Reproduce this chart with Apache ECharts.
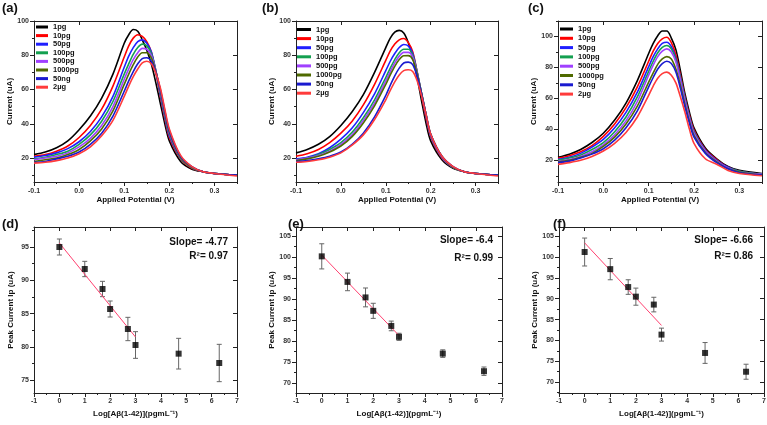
<!DOCTYPE html>
<html><head><meta charset="utf-8">
<script src="https://cdn.jsdelivr.net/npm/echarts@6/dist/echarts.min.js"></script>
<style>html,body{margin:0;padding:0;background:#fff}#c{width:767px;height:425px}</style>
</head><body><div id="c"></div>
<script>
// ---------- data ----------
const seriesNames = ['1pg','10pg','50pg','100pg','500pg','1000pg','50ng','2µg'];
const seriesColors = ['#000000','#ff0000','#1f1fff','#14a050','#a040ff','#4f6a00','#1a1ad0','#ff3b3b'];
const potential = [-0.1,-0.075,-0.05,-0.025,0,0.025,0.05,0.075,0.1,0.11,0.12,0.13,0.14,0.15,0.16,0.17,0.18,0.19,0.2,0.225,0.25,0.275,0.3,0.35];

// panel (a) currents, one row per concentration
const currentA = [
  [22,23.5,26,30,36.5,44.5,55,69,87,92,95,94,89,83,75,64,52,40,30,18,13.5,12,11,10],
  [21,22,24,27,32,39,48.5,62,79,85.5,90,92,91,88,82,70,56,43,32,19.5,14,12,11,10],
  [20.5,21.5,23,25.5,29.5,35.5,44,56,73,79.5,84.5,88,89,87,82,71,57,44,33,20,14.5,12,11,10],
  [19.5,20.5,22,24,28,33.5,41.5,53,69,75,80.5,84.5,86.5,85.5,81,71,58,45,34,20,14.5,12,11,10],
  [19,20,21,23,26.5,31.5,39,50,66,72,77.5,81.5,84,83.5,80,71,59,46,34.5,20.5,14.5,12,11,10],
  [18,19,20,22,25,30,37,47.5,63,69,74.5,79,81.5,81.5,78.5,70.5,59.5,46.5,35,20.5,14.5,12,11,10],
  [17.5,18,19.5,21,23.5,28,34.5,44.5,59,65,70.5,75,78,78.5,76.5,70,60,47.5,36,21,15,12,11,10],
  [17,17.5,18.5,20,22.5,26.5,33,42,56,62,67.5,72,75.5,76.5,75,69.5,61,48.5,37,21.5,15,12,11,9.5]
];
// panel (b)
const currentB = [
  [23,25,28,32.5,39,47,57,70,84.5,90,93.5,94.5,93,87.5,79,67,53,40,30,19,14,12,11,10],
  [21,22.5,25,29,34.5,41.5,51,63,77,82.5,86.5,89,89.8,87.5,82,70,56,43,32.5,20,14.5,12,11,10],
  [19.5,20.5,22.5,26,31,37.5,46.5,57.5,71,76.5,81,84.5,86.3,85.5,81,70,57,44,33,20.5,14.5,12,11,10],
  [19,20,22,25,29,35,43.5,54,67,72.5,77.5,81.5,83.5,83.5,80,70,57.5,45,33.5,20.5,14.5,12,11,10],
  [19,20,21.5,24,28,33.5,42,52,65,70.5,75.5,79.5,81.7,81.7,79,69.5,57.5,45,33.5,20.5,14.5,12,11,10],
  [18.5,19.5,21,23.5,27,32.5,40.5,50.5,63,68.5,73.5,77.5,79.7,79.8,77.5,69,57.5,45,34,21,14.5,12,11,10],
  [18,18.5,19.5,21,23.5,28,34.5,44,56.5,62.5,68,72.5,75.5,76,74.5,67.5,57,45,34,21,15,12,11,10],
  [17.5,18,19,20.5,23,27.5,33.5,42.5,54,59.5,64.5,68.5,71,71.5,70.5,65,56,45,34,21,15,12,11,9.5]
];
// panel (c)
const currentC = [
  [22,24,27,31.5,37.5,46,57,71.5,89,95.5,100.5,103.5,103.5,99,91.5,78,63,51,41,28,21,16,13.5,11.5],
  [21.3,23,25.5,29.5,35.5,43.5,54,67.5,84,90.5,95.5,98.5,99.5,96,88,75,61,49,39.5,27,20.5,15.5,13,11],
  [20.6,22,24.5,28.5,33.5,41,51,64,80.5,87,92,95.5,96.3,93.5,86,73.5,60,48,38.5,26.5,20,15.5,13,11],
  [20.2,21.5,23.5,27,31.5,38.5,48,61,77.5,84,89.5,93,94.2,92,85,73,59.5,47.5,38,26,19.5,15,13,11],
  [19.4,20.5,22.5,25.5,30,36.5,45.5,58,75,81.5,87,90.5,92,90,83.5,72,58.5,47,37.5,26,19.5,15,12.5,11],
  [19,20,22,24.5,29,35,43.5,55,70.5,76.5,82,85.5,87,85.5,79,68.5,56,45,36,25,19,14.5,12.5,10.5],
  [18.5,19.5,21.5,24,27.5,33,41,52,67.5,73.5,79,82.5,84,82.5,77,66.5,54.5,44,35,24.5,18.5,14.5,12,10.5],
  [17.4,18.5,20,22.5,26,31,38,48,62,68,73,76,77,75,70,61,51,40,31,21,17.5,13.5,11.5,10]
];

// calibration panels
const logConc = [0,1,1.7,2,2.7,3,4.7,6.3];
const peakD = [95.0,91.7,88.7,85.7,82.7,80.3,79.0,77.6];
const errD  = [1.2,1.15,1.15,1.2,1.75,2.0,2.3,2.8];
const peakE = [100.2,94.1,90.4,87.2,83.6,81.0,77.0,72.8];
const errE  = [3.0,2.1,2.25,1.8,1.15,0.85,0.9,1.0];
const peakF = [101.2,97.1,92.8,90.5,88.6,81.4,77.0,72.5];
const errF  = [3.35,2.55,1.75,2.05,1.75,1.55,2.5,1.8];
const fitX = [0,3];
const fitD = [95.6,81.5];
const fitE = [100.5,81.3];
const fitF = [103.4,83.6];

// tick labels
const potMajor = [-0.1,0,0.1,0.2,0.3];
const potMinor = [-0.05,0.05,0.15,0.25,0.35];
const curMajor = [20,40,60,80,100];
const curMinor = [10,30,50,70,90];
const curMinorC = [10,30,50,70,90,110];
const logMajor = [-1,0,1,2,3,4,5,6,7];
const logMinor = [-0.5,0.5,1.5,2.5,3.5,4.5,5.5,6.5];
const ipMajorD = [75,80,85,90,95];
const ipMinorD = [77.5,82.5,87.5,92.5,97.5];
const ipMajorEF = [70,75,80,85,90,95,100,105];
const ipMinorEF = [67.5,72.5,77.5,82.5,87.5,92.5,97.5,102.5];

// ---------- build ----------
const FF = 'Liberation Sans, Arial, sans-serif';
const AX = '#222';
const grids = [], xAxes = [], yAxes = [], series = [], legends = [];

function addAxes(list, g, isX, min, max, majors, minors, fmt, name, nameGap, margin) {
  const base = list.length;
  list.push({
    type: 'value', gridIndex: g, position: isX ? 'bottom' : 'left', min, max,
    name, nameLocation: 'middle', nameGap,
    nameTextStyle: {fontFamily: FF, fontWeight: 'bold', fontSize: 8, color: '#111'},
    axisLine: {show: true, onZero: false, lineStyle: {color: AX, width: 1}},
    axisTick: {show: true, inside: false, length: 4, customValues: majors, lineStyle: {color: AX}},
    axisLabel: {show: true, customValues: majors, formatter: fmt, margin, fontSize: 7, fontWeight: 'bold', color: '#333', fontFamily: FF},
    splitLine: {show: false}
  });
  list.push({
    type: 'value', gridIndex: g, position: isX ? 'bottom' : 'left', min, max,
    axisLine: {show: false, onZero: false},
    axisTick: {show: true, inside: false, length: 2, customValues: minors, lineStyle: {color: AX}},
    axisLabel: {show: false}, splitLine: {show: false}
  });
  list.push({
    type: 'value', gridIndex: g, position: isX ? 'top' : 'right', min, max,
    axisLine: {show: true, onZero: false, lineStyle: {color: AX, width: 1}},
    axisTick: {show: true, inside: true, length: 4, customValues: majors, lineStyle: {color: AX}},
    axisLabel: {show: false}, splitLine: {show: false}
  });
  return base;
}

const fmtPot = v => v.toFixed(1);
const fmtInt = v => String(Math.round(v));

function curvePanel(g, box, ymax, yMinor, data, lp) {
  grids.push({left: box[0], top: box[1], width: box[2], height: box[3], containLabel: false, outerBoundsMode: 'none'});
  const xi = addAxes(xAxes, g, true, -0.1, 0.35, potMajor, potMinor, fmtPot, 'Applied Potential (V)', 12, 6);
  const yi = addAxes(yAxes, g, false, 6, ymax, curMajor, yMinor, fmtInt, 'Current (uA)', lp.yGap, 5);
  data.forEach((row, k) => {
    series.push({
      type: 'line', name: seriesNames[k], xAxisIndex: xi, yAxisIndex: yi,
      data: potential.map((x, i) => [x, row[i]]),
      smooth: 0.3, showSymbol: false, symbol: 'none',
      color: seriesColors[k], lineStyle: {color: seriesColors[k], width: 1.6}, z: 2 + k * 0.01
    });
  });
  legends.push({
    orient: 'vertical', left: lp.left, top: lp.top, padding: 0,
    icon: 'rect', itemWidth: lp.w, itemHeight: 3, itemGap: lp.gap,
    data: seriesNames, selectedMode: false,
    textStyle: {fontFamily: FF, fontWeight: 'bold', fontSize: 7.5, color: '#111', lineHeight: 7}
  });
}

function errRender(params, api) {
  const x = api.value(0), lo = api.value(1), hi = api.value(2);
  const a = api.coord([x, lo]), b = api.coord([x, hi]);
  const w = 2.5, st = {stroke: '#666', lineWidth: 1};
  return {type: 'group', children: [
    {type: 'line', shape: {x1: a[0], y1: a[1], x2: b[0], y2: b[1]}, style: st},
    {type: 'line', shape: {x1: a[0] - w, y1: a[1], x2: a[0] + w, y2: a[1]}, style: st},
    {type: 'line', shape: {x1: b[0] - w, y1: b[1], x2: b[0] + w, y2: b[1]}, style: st}
  ]};
}

function calPanel(g, box, ymin, ymax, majors, minors, peaks, errs, fit, yGap) {
  grids.push({left: box[0], top: box[1], width: box[2], height: box[3], containLabel: false, outerBoundsMode: 'none'});
  const xi = addAxes(xAxes, g, true, -1, 7, logMajor, logMinor, fmtInt, 'Log[Aβ(1-42)](pgmL⁻¹)', 17, 5);
  const yi = addAxes(yAxes, g, false, ymin, ymax, majors, minors, fmtInt, 'Peak Current Ip (uA)', yGap, 5);
  series.push({
    type: 'custom', xAxisIndex: xi, yAxisIndex: yi, renderItem: errRender, z: 2,
    encode: {x: 0, y: [1, 2]},
    data: logConc.map((x, i) => [x, peaks[i] - errs[i], peaks[i] + errs[i]])
  });
  series.push({
    type: 'line', xAxisIndex: xi, yAxisIndex: yi, z: 3, symbol: 'none',
    data: fitX.map((x, i) => [x, fit[i]]),
    lineStyle: {color: '#ff4070', width: 1}
  });
  series.push({
    type: 'scatter', xAxisIndex: xi, yAxisIndex: yi, z: 4, symbol: 'rect', symbolSize: 6,
    itemStyle: {color: '#000'},
    data: logConc.map((x, i) => [x, peaks[i]])
  });
}

curvePanel(0, [34, 21, 203, 161], 100, curMinor, currentA, {left: 36, top: 23, w: 12, gap: 0.6, yGap: 19});
curvePanel(1, [296, 21, 202, 161], 100, curMinor, currentB, {left: 297, top: 25.5, w: 14, gap: 1.1, yGap: 17});
curvePanel(2, [558, 21, 204, 161], 110, curMinorC, currentC, {left: 560, top: 25, w: 13, gap: 1.3, yGap: 18});
calPanel(3, [34, 227, 203, 166], 73.1, 98, ipMajorD, ipMinorD, peakD, errD, fitD, 19);
calPanel(4, [296, 227, 206, 166], 67.6, 107.2, ipMajorEF, ipMinorEF, peakE, errE, fitE, 19);
calPanel(5, [559, 227, 205, 166], 67.4, 107.2, ipMajorEF, ipMinorEF, peakF, errF, fitF, 19);

function txt(x, y, s, size, align) {
  return {type: 'text', x, y, z: 100,
    style: {text: s, font: 'bold ' + size + 'px ' + FF, fill: '#111',
      align: align || 'left', verticalAlign: 'middle', textAlign: align || 'left', textVerticalAlign: 'middle'}};
}
const graphics = [
  txt(2, 8, '(a)', 13), txt(262, 8, '(b)', 13), txt(528, 8, '(c)', 13),
  txt(2, 224, '(d)', 13), txt(288, 224, '(e)', 13), txt(553, 224, '(f)', 13),
  txt(228, 242.5, 'Slope= -4.77', 10, 'right'), txt(228, 256, 'R²= 0.97', 10, 'right'),
  txt(493, 240.5, 'Slope= -6.4', 10, 'right'), txt(493, 258.5, 'R²= 0.99', 10, 'right'),
  txt(753, 240.5, 'Slope= -6.66', 10, 'right'), txt(753, 256, 'R²= 0.86', 10, 'right')
];

const chart = echarts.init(document.getElementById('c'), null, {renderer: 'canvas'});
chart.setOption({
  backgroundColor: '#ffffff', animation: false,
  grid: grids, xAxis: xAxes, yAxis: yAxes, series, legend: legends, graphic: graphics
});
</script>
</body></html>
